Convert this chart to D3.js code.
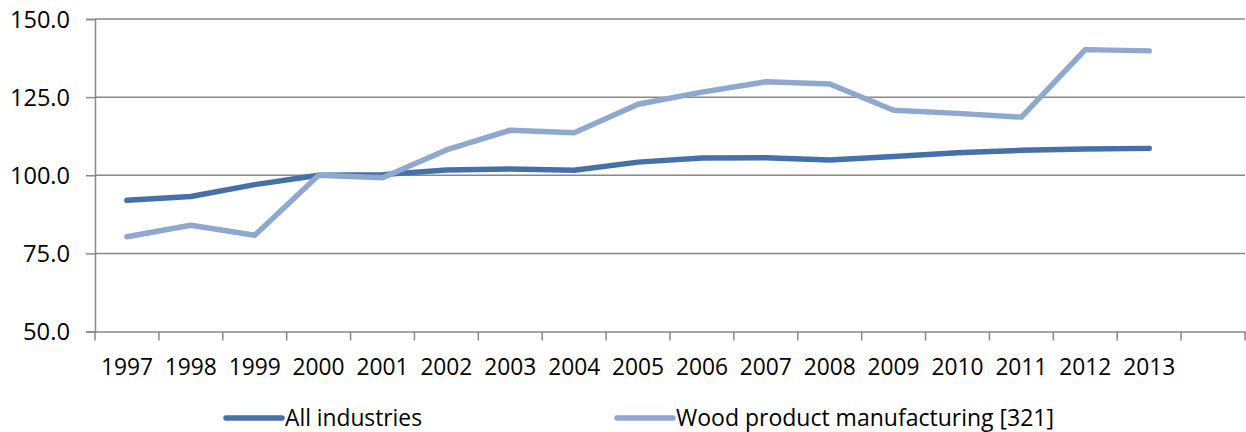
<!DOCTYPE html>
<html><head><meta charset="utf-8">
<script src="https://cdn.jsdelivr.net/npm/d3@7"></script>
<style>
body{margin:0;background:#fff;}
svg text{font-family:"Open Sans",sans-serif;fill:#000;}
</style></head>
<body><svg id="c" width="1246" height="432"></svg>
<script>
const years = ["1997","1998","1999","2000","2001","2002","2003","2004","2005","2006","2007","2008","2009","2010","2011","2012","2013"];
const allIndustries = [92.0,93.2,97.0,100.0,100.2,101.7,102.0,101.6,104.2,105.5,105.6,104.9,106.0,107.2,108.0,108.4,108.6];
const woodProduct = [80.3,84.0,80.8,100.0,99.2,108.1,114.4,113.6,122.7,126.6,129.9,129.2,120.8,119.8,118.6,140.2,139.8];
const yTicks = [50,75,100,125,150];
const seriesNames = ["All industries","Wood product manufacturing [321]"];
const colors = ["#4571A8","#8EA8CF"];

const svg = d3.select("#c");
const pLeft = 95, pRight = 1245, pTop = 19, pBottom = 331.5;
const FS = 23.5;
const cats = years.concat([""]);
const x = d3.scaleBand().domain(cats).range([pLeft,pRight]);
const y = d3.scaleLinear().domain([50,150]).range([pBottom,pTop]);

// gridlines
svg.append("g").selectAll("line").data(yTicks.filter(d=>d>50)).join("line")
  .attr("x1",pLeft).attr("x2",pRight).attr("y1",d=>y(d)).attr("y2",d=>y(d))
  .attr("stroke","#888").attr("stroke-width",1.5);

// y axis
const ya = svg.append("g").attr("transform",`translate(${pLeft},0)`)
  .call(d3.axisLeft(y).tickValues(yTicks).tickFormat(d3.format(".1f")).tickSize(9).tickPadding(16));
ya.select(".domain").attr("stroke","#888").attr("stroke-width",1.5);
ya.selectAll(".tick line").attr("stroke","#888").attr("stroke-width",1.5);
ya.selectAll("text").attr("font-size",FS).attr("fill","#000").attr("font-family","Open Sans")
  .attr("dy","0.34em")
  .attr("textLength",d=>d>=100?60:47).attr("lengthAdjust","spacingAndGlyphs");

// x axis
const xa = svg.append("g").attr("transform",`translate(0,${pBottom})`)
  .call(d3.axisBottom(x).tickValues([]).tickSize(0));
xa.select(".domain").attr("stroke","#888").attr("stroke-width",1.5);
const bounds = cats.map(c=>x(c)).concat([pRight]);
svg.append("g").selectAll("line").data(bounds).join("line")
  .attr("x1",d=>d).attr("x2",d=>d).attr("y1",pBottom).attr("y2",pBottom+9)
  .attr("stroke","#888").attr("stroke-width",1.5);
svg.append("g").selectAll("text").data(years).join("text")
  .attr("x",d=>x(d)+x.bandwidth()/2).attr("y",375)
  .attr("text-anchor","middle").attr("font-size",FS)
  .attr("textLength",52).attr("lengthAdjust","spacingAndGlyphs")
  .text(d=>d);

// lines
const line = d3.line().x((d,i)=>x(years[i])+x.bandwidth()/2).y(d=>y(d));
[allIndustries,woodProduct].forEach((s,k)=>{
  svg.append("path").datum(s).attr("d",line).attr("fill","none")
    .attr("stroke",colors[k]).attr("stroke-width",5.5)
    .attr("stroke-linecap","round").attr("stroke-linejoin","round");
});

// legend
const legX = [226,617], legTW=[137,378];
seriesNames.forEach((n,k)=>{
  svg.append("line").attr("x1",legX[k]).attr("x2",legX[k]+56).attr("y1",418).attr("y2",418)
    .attr("stroke",colors[k]).attr("stroke-width",5.5).attr("stroke-linecap","round");
  svg.append("text").attr("x",legX[k]+59).attr("y",426).attr("font-size",FS)
    .attr("textLength",legTW[k]).attr("lengthAdjust","spacingAndGlyphs").text(n);
});
</script></body></html>
